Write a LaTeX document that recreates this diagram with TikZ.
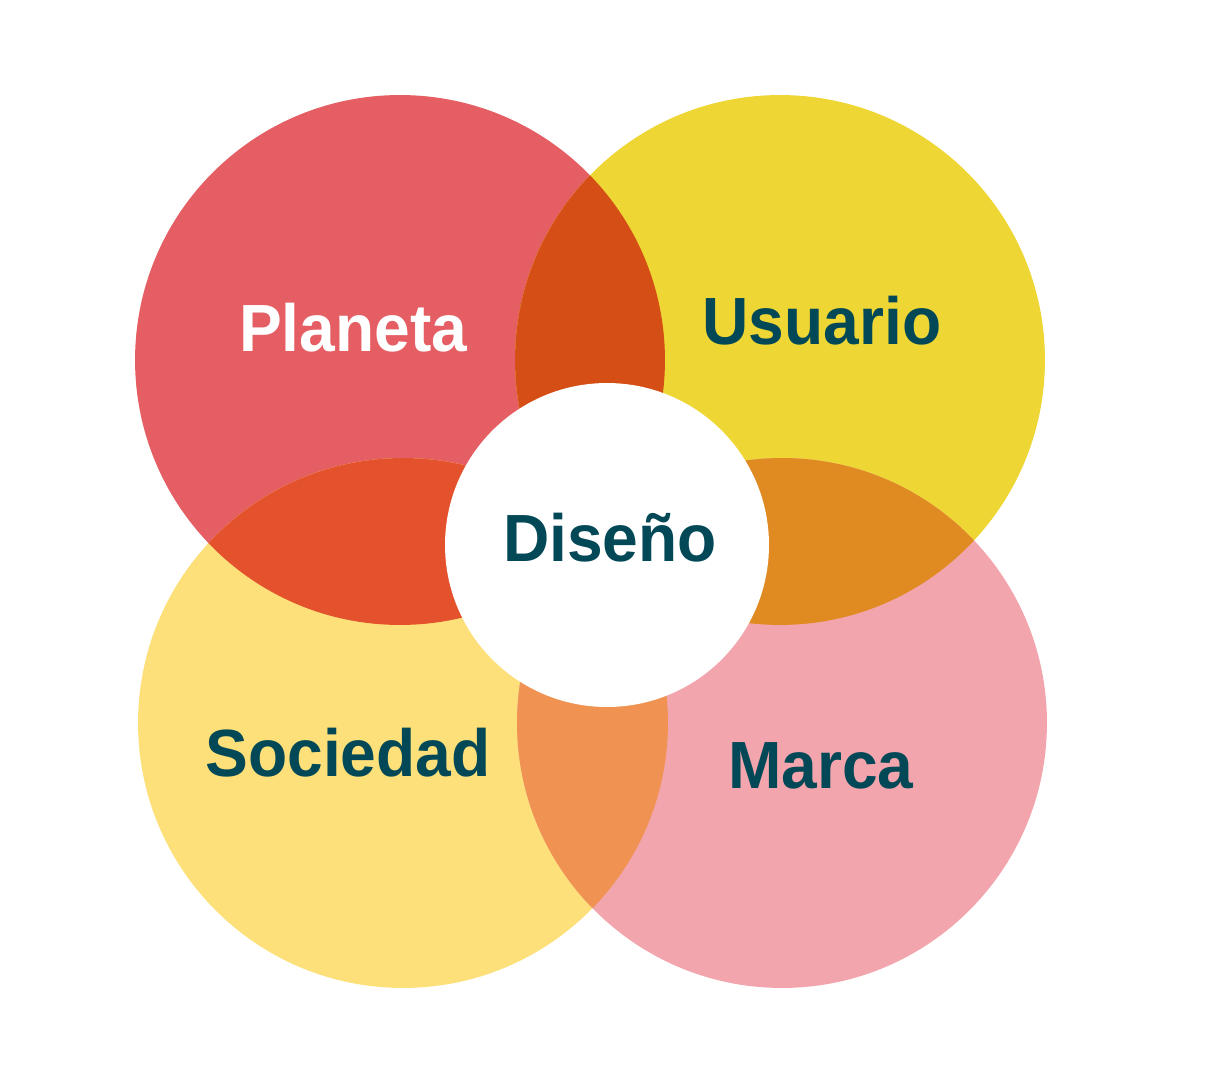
\documentclass[tikz,border=0pt]{standalone}
\usepackage{fontspec}
\usetikzlibrary{positioning}
\newfontfamily\vennfont[FakeStretch=0.96]{Liberation Sans}
\definecolor{PL}{HTML}{E55E63}
\definecolor{US}{HTML}{EED634}
\definecolor{SO}{HTML}{FDE07A}
\definecolor{MA}{HTML}{F2A5AC}
\definecolor{PU}{HTML}{D54E16}
\definecolor{PS}{HTML}{E4522D}
\definecolor{UM}{HTML}{E08A22}
\definecolor{SM}{HTML}{F09352}
\definecolor{DT}{RGB}{2,72,86}

\begin{document}
\begin{tikzpicture}[
  x=0.02cm, y=-0.02cm,
  set/.style={circle, fill=#1, minimum size=10.6cm, inner sep=0pt},
  core/.style={circle, fill=white, minimum size=6.48cm, inner sep=0pt},
  lbl/.style={anchor=base, inner sep=0pt, text=#1,
              font=\vennfont\bfseries\fontsize{38}{40}\selectfont}
]
\useasboundingbox (0,0) rectangle (1224,1081);

% Sets
\node[set=PL] (planeta)  at (400,360) {};
\node[set=US] (usuario)  at (780,360) {};
\node[set=SO] (sociedad) at (403,723) {};
\node[set=MA] (marca)    at (782,723) {};

% Overlaps
\begin{scope}
  \clip (planeta.center) circle (5.3cm);
  \fill[PU] (usuario.center) circle (5.3cm);
  \fill[PS] (sociedad.center) circle (5.3cm);
\end{scope}
\begin{scope}
  \clip (marca.center) circle (5.3cm);
  \fill[UM] (usuario.center) circle (5.3cm);
  \fill[SM] (sociedad.center) circle (5.3cm);
\end{scope}

% Centre
\node[core] (diseno) at (607,545) {};

% Labels
\node[lbl=white] (tplaneta)  at (353,351) {Planeta};
\node[lbl=DT]    (tusuario)  at (822,344) {Usuario};
\node[lbl=DT]    (tdiseno)   at (610,561) {Diseño};
\node[lbl=DT]    (tsociedad) at (348,776) {Sociedad};
\node[lbl=DT]    (tmarca)    at (821,788) {Marca};
\end{tikzpicture}
\end{document}
